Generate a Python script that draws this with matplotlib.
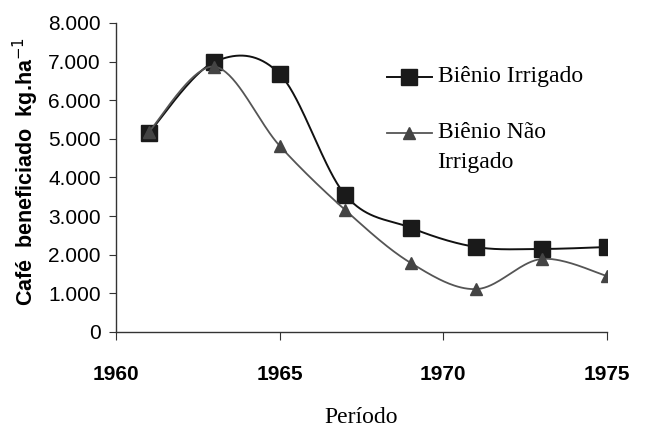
import matplotlib
matplotlib.use("Agg")
import matplotlib.pyplot as plt
from matplotlib.ticker import FuncFormatter
import numpy as np

# dados
anos = [1961, 1963, 1965, 1967, 1969, 1971, 1973, 1975]
irrigado = [5150, 6990, 6680, 3550, 2700, 2200, 2150, 2200]
nao_irrigado = [5180, 6870, 4820, 3160, 1790, 1110, 1890, 1450]

serie_irr = "Biênio Irrigado"
serie_nao = ["Biênio Não", "Irrigado"]


def suavizar(x, y, n=40):
    # curva suave estilo Excel (Bezier com pontos de controle Catmull-Rom)
    x = np.asarray(x, float)
    y = np.asarray(y, float)
    px = np.concatenate([[x[0]], x, [x[-1]]])
    py = np.concatenate([[y[0]], y, [y[-1]]])
    t = np.linspace(0, 1, n)
    xs, ys = [], []
    for i in range(len(x) - 1):
        p0 = np.array([px[i + 1], py[i + 1]])
        p3 = np.array([px[i + 2], py[i + 2]])
        p1 = p0 + (p3 - np.array([px[i], py[i]])) / 6
        p2 = p3 - (np.array([px[i + 3], py[i + 3]]) - p0) / 6
        b = (np.outer((1 - t) ** 3, p0) + np.outer(3 * (1 - t) ** 2 * t, p1)
             + np.outer(3 * (1 - t) * t ** 2, p2) + np.outer(t ** 3, p3))
        xs.append(b[:, 0])
        ys.append(b[:, 1])
    return np.concatenate(xs), np.concatenate(ys)


fig = plt.figure(figsize=(6.51, 4.28), dpi=100)
ax = fig.add_axes([0.1782, 0.2243, 0.7542, 0.722])

xi, yi = suavizar(anos, irrigado)
ax.plot(xi, yi, color="#111111", lw=1.4, zorder=2)
ax.plot(anos, irrigado, ls="none", marker="s", ms=12, color="#1a1a1a", zorder=3)

xn, yn = suavizar(anos, nao_irrigado)
ax.plot(xn, yn, color="#555555", lw=1.3, zorder=4)
ax.plot(anos, nao_irrigado, ls="none", marker="^", ms=9, color="#444444", zorder=5)

ax.set_xlim(1960, 1975)
ax.set_ylim(0, 8000)
ax.set_xticks([1960, 1965, 1970, 1975])
ax.set_yticks(range(0, 8001, 1000))
ax.yaxis.set_major_formatter(FuncFormatter(lambda v, p: f"{int(v):,}".replace(",", ".")))

for s in ["top", "right"]:
    ax.spines[s].set_visible(False)
for s in ["left", "bottom"]:
    ax.spines[s].set_color("#333333")
    ax.spines[s].set_linewidth(1.0)

ax.tick_params(axis="y", direction="out", length=5, pad=6, labelsize=15,
               color="#333333")
ax.tick_params(axis="x", direction="out", length=6, pad=18, labelsize=15,
               color="#333333")
for lab in ax.get_yticklabels():
    lab.set_fontfamily("Liberation Sans")
for lab in ax.get_xticklabels():
    lab.set_fontfamily("Liberation Sans")
    lab.set_fontweight("bold")

plt.rcParams["mathtext.fontset"] = "custom"
plt.rcParams["mathtext.rm"] = "Liberation Sans"
ax.set_ylabel("Café  beneficiado  kg.ha$^{\\mathrm{-1}}$", fontsize=15.5,
              fontweight="bold", family="Liberation Sans")
ax.yaxis.set_label_coords(-0.153, 0.52)
ax.set_xlabel("Período", fontsize=17, family="Liberation Serif")
ax.xaxis.set_label_coords(0.499, -0.242)

# legenda desenhada a mao (a segunda entrada tem o marcador na primeira linha)
fs_leg = 17
ax.plot([0.552, 0.643], [0.826, 0.826], transform=ax.transAxes, color="#111111",
        lw=1.4, clip_on=False)
ax.plot([0.5975], [0.826], transform=ax.transAxes, marker="s", ms=12,
        color="#1a1a1a", clip_on=False)
ax.text(0.655, 0.826, serie_irr, transform=ax.transAxes, fontsize=fs_leg,
        family="Liberation Serif", va="center", ha="left")
ax.plot([0.552, 0.643], [0.644, 0.644], transform=ax.transAxes, color="#555555",
        lw=1.3, clip_on=False)
ax.plot([0.5975], [0.644], transform=ax.transAxes, marker="^", ms=9,
        color="#444444", clip_on=False)
ax.text(0.655, 0.644, serie_nao[0], transform=ax.transAxes, fontsize=fs_leg,
        family="Liberation Serif", va="center", ha="left")
ax.text(0.655, 0.547, serie_nao[1], transform=ax.transAxes, fontsize=fs_leg,
        family="Liberation Serif", va="center", ha="left")

fig.savefig("out.png", dpi=100)
